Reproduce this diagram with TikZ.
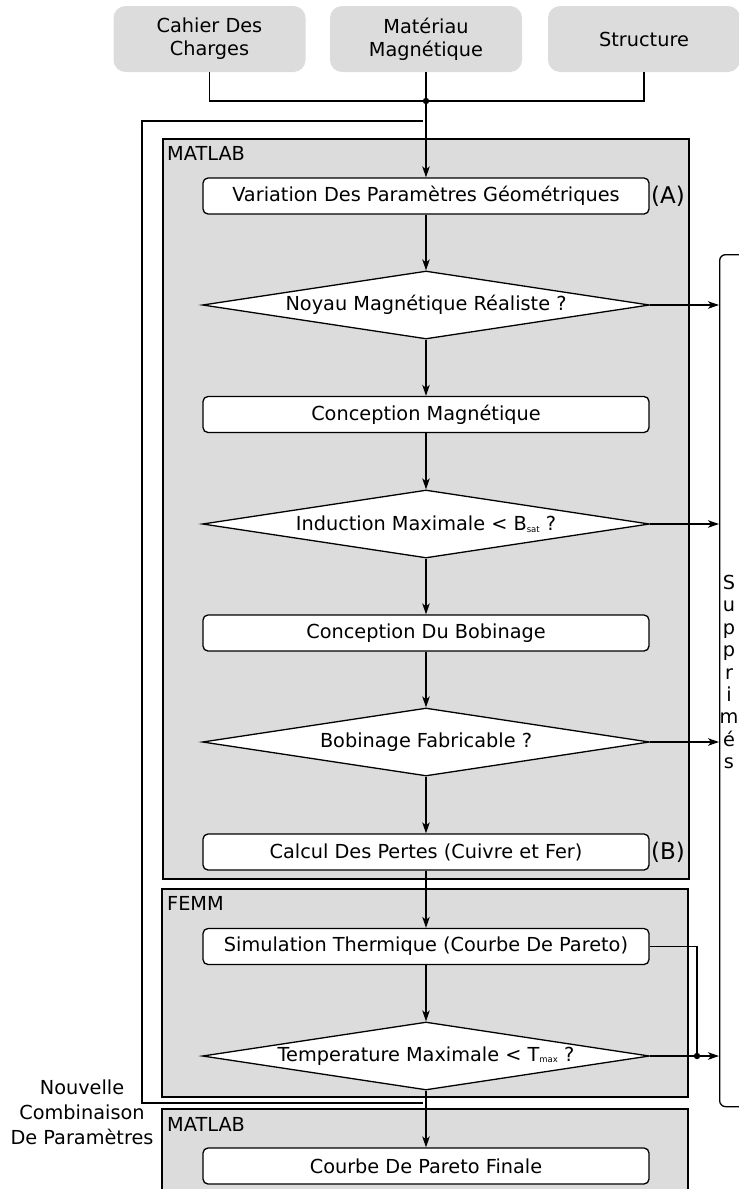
\documentclass[tikz,border=0pt]{standalone}
\usepackage{fontspec}
\setmainfont{DejaVu Sans}
\usetikzlibrary{shapes.geometric,arrows.meta}
\definecolor{panel}{RGB}{220,220,220}
\newcommand{\subtxt}[1]{\raisebox{-1.5pt}{\fontsize{8.5}{9}\selectfont #1}}
\begin{document}
\begin{tikzpicture}[x=1pt,y=-1pt,
  every node/.style={font=\fontsize{19.3}{23}\selectfont, inner sep=0pt},
  topbox/.style={rectangle, rounded corners=12pt, fill=panel, minimum width=192pt, minimum height=66pt, align=center},
  procbox/.style={rectangle, rounded corners=5pt, draw, fill=white, line width=1.3pt, minimum width=446pt, minimum height=36pt},
  decision/.style={diamond, draw, fill=white, line width=1.3pt, minimum width=447pt, minimum height=68pt},
  panelbox/.style={fill=panel, draw, line width=1.3pt},
  wire/.style={line width=1.3pt},
  flow/.style={wire, -{Stealth[length=11pt,width=7.5pt,inset=3pt]}},
  tagtext/.style={font=\fontsize{23}{26}\selectfont},
  dot/.style={fill=black}]
\useasboundingbox (0,0) rectangle (739,1189);
\clip (0,0) rectangle (739,1189);

% panels
\path[panelbox] (163,139) rectangle (689,879);
\node[anchor=west] (lab1) at (167,153) {MATLAB};
\path[panelbox] (162,889) rectangle (688,1097);
\node[anchor=west] (lab2) at (167,903) {FEMM};
\path[panelbox] (162,1109) rectangle (688,1215);
\node[anchor=west] (lab3) at (167,1124) {MATLAB};

% inputs
\node[topbox] (cdc) at (209.5,39) {Cahier Des\\Charges};
\node[topbox] (mat) at (426,39) {Matériau\\Magnétique};
\node[topbox] (str) at (644,39) {Structure};

% rejected box
\node[draw, fill=white, rounded corners=6pt, line width=1.3pt, minimum width=60pt, minimum height=852pt, anchor=north west] (sup) at (719,254) {};
\node[align=center, font=\fontsize{19.3}{22.4}\selectfont] (suptext) at (729,672) {S\\u\\p\\p\\r\\i\\m\\é\\s};

% flow nodes
\node[procbox] (var) at (426,196) {Variation Des Paramètres Géométriques};
\node[decision] (d1) at (426,305) {\makebox[0pt]{Noyau Magnétique Réaliste ?}};
\node[procbox] (cm) at (426,414.5) {Conception Magnétique};
\node[decision] (d2) at (426,524) {\makebox[0pt]{Induction Maximale < B\subtxt{sat} ?}};
\node[procbox] (cb) at (426,633) {Conception Du Bobinage};
\node[decision] (d3) at (426,742) {\makebox[0pt]{Bobinage Fabricable ?}};
\node[procbox] (calc) at (426,852) {Calcul Des Pertes (Cuivre et Fer)};
\node[procbox] (sim) at (426,946.5) {Simulation Thermique (Courbe De Pareto)};
\node[decision] (d4) at (426,1056) {\makebox[0pt]{Temperature Maximale < T\subtxt{max} ?}};
\node[procbox] (pf) at (426,1166) {Courbe De Pareto Finale};
\node[tagtext] (ta) at (668,196) {(A)};
\node[tagtext] (tb) at (668,852) {(B)};
\node[align=center, font=\fontsize{19.3}{25}\selectfont] (nc) at (82,1112) {Nouvelle\\Combinaison\\De Paramètres};

% coordinates
\coordinate (j) at (426,101);
\coordinate (k) at (697,1056);
\coordinate (lb) at (423,1103);
\coordinate (lbl) at (142,1103);
\coordinate (ltl) at (142,121);
\coordinate (lt) at (423,121);

% connectors
\draw[wire] (cdc.south) -- (cdc.south |- j) -- (str.south |- j) -- (str.south);
\draw[flow] (mat.south) -- (var.north);
\fill[dot] (j) circle (3.2pt);
\draw[wire] (lb) -- (lbl) -- (ltl) -- (lt);

\draw[flow] (var.south) -- (d1.north);
\draw[flow] (d1.south) -- (cm.north);
\draw[flow] (cm.south) -- (d2.north);
\draw[flow] (d2.south) -- (cb.north);
\draw[flow] (cb.south) -- (d3.north);
\draw[flow] (d3.south) -- (calc.north);
\draw[flow] (calc.south) -- (sim.north);
\draw[flow] (sim.south) -- (d4.north);
\draw[flow] (d4.south) -- (pf.north);

\draw[flow] (d1.east) -- (d1.east -| sup.west);
\draw[flow] (d2.east) -- (d2.east -| sup.west);
\draw[flow] (d3.east) -- (d3.east -| sup.west);
\draw[flow] (d4.east) -- (d4.east -| sup.west);
\draw[wire] (sim.east) -- (sim.east -| k) -- (k);
\fill[dot] (k) circle (3.2pt);
\end{tikzpicture}
\end{document}
